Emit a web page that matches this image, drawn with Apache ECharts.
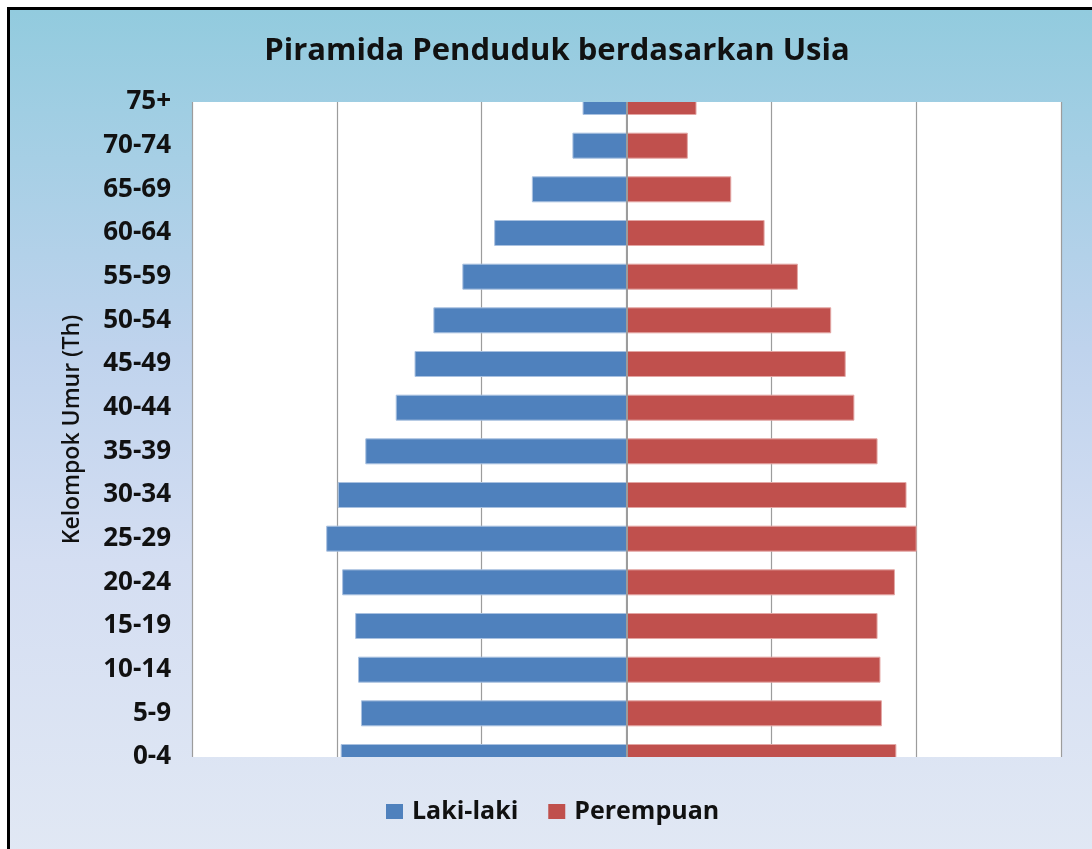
<!DOCTYPE html>
<html>
<head>
<meta charset="utf-8">
<script src="https://cdn.jsdelivr.net/npm/echarts@6/dist/echarts.min.js"></script>
<style>
  html, body { margin: 0; padding: 0; background: #fff; }
  #frame {
    position: absolute; left: 7px; top: 7px; right: -10px; bottom: -10px;
    border-top: 3px solid #000; border-left: 3px solid #000;
    background: linear-gradient(to bottom, #92cbde 0%, #a0cee3 12%, #bfd3ed 40%, #d4def2 65%, #e1e8f4 100%);
  }
  #chart { position: absolute; left: 0; top: 0; width: 1092px; height: 849px; }
</style>
</head>
<body>
<div id="frame"></div>
<div id="chart"></div>
<script>
// kelompok umur, dari bawah ke atas
const categories = ['0-4', '5-9', '10-14', '15-19', '20-24', '25-29', '30-34', '35-39',
  '40-44', '45-49', '50-54', '55-59', '60-64', '65-69', '70-74', '75+']

// laki-laki digambar ke kiri (negatif)
const lakiLaki = [-197, -183, -185, -187, -196, -207, -199, -180,
  -159, -146, -133, -113, -91, -65, -37, -30]
const perempuan = [186, 176, 175, 173, 185, 200, 193, 173,
  157, 151, 141, 118, 95, 72, 42, 48]

const seriesNames = ['Laki-laki', 'Perempuan']
const colors = ['#4f81bd', '#c0504d']
const borders = ['#a9c1e0', '#e3a6a4']
const font = 'Open Sans'
const barHeight = 25

const mychart = echarts.init(document.getElementById('chart'))

// bar as custom series so the half bars on the edges get clipped by the grid
function renderBar(params, api) {
  const cat = api.value(1)
  const start = api.coord([0, cat])
  const end = api.coord([api.value(0), cat])
  return {
    type: 'rect',
    shape: {
      x: Math.min(start[0], end[0]),
      y: start[1] - barHeight / 2,
      width: Math.abs(end[0] - start[0]),
      height: barHeight
    },
    style: {
      fill: colors[params.seriesIndex],
      stroke: borders[params.seriesIndex],
      lineWidth: 1
    }
  }
}

function makeSeries(idx, values) {
  return {
    name: seriesNames[idx],
    type: 'custom',
    clip: true,
    renderItem: renderBar,
    encode: { x: 0, y: 1 },
    itemStyle: { color: colors[idx] },
    data: values.map((v, i) => [v, i])
  }
}

const s0 = makeSeries(0, lakiLaki)
const s1 = makeSeries(1, perempuan)
s1.markLine = {
  silent: true,
  symbol: ['none', 'none'],
  label: { show: false },
  lineStyle: { color: '#9c9c9c', type: 'solid', width: 2 },
  data: [{ xAxis: 0 }]
}

mychart.setOption({
  animation: false,
  backgroundColor: 'transparent',
  title: {
    text: 'Piramida Penduduk berdasarkan Usia',
    left: 552,
    textAlign: 'center',
    top: 31,
    textStyle: { fontFamily: font, fontSize: 31, fontWeight: 'bold', color: '#111' }
  },
  legend: {
    data: seriesNames,
    left: 386,
    top: 799,
    padding: 0,
    icon: 'rect',
    itemWidth: 17,
    itemHeight: 15,
    itemGap: 30,
    textStyle: { fontFamily: font, fontSize: 25, fontWeight: 'bold', color: '#111', padding: [0, 0, 0, 4] }
  },
  grid: {
    left: 192, right: 31, top: 102, bottom: 92,
    show: true, backgroundColor: '#fff', borderWidth: 0
  },
  xAxis: {
    type: 'value',
    min: -300, max: 300, interval: 100,
    axisLabel: { show: false },
    axisLine: { show: false },
    axisTick: { show: false },
    splitLine: { lineStyle: { color: '#9c9c9c', width: 1.2 } }
  },
  yAxis: {
    type: 'category',
    data: categories,
    boundaryGap: false,
    name: 'Kelompok Umur (Th)',
    nameLocation: 'middle',
    nameRotate: 90,
    nameGap: 108,
    nameTextStyle: { fontFamily: font, fontSize: 23, fontWeight: 600, color: '#111' },
    axisLine: { show: false },
    axisTick: { show: false },
    splitLine: { show: false },
    axisLabel: { margin: 21, padding: [5, 0, 0, 0], fontFamily: font, fontSize: 26, fontWeight: 'bold', color: '#111' }
  },
  series: [s0, s1]
})
</script>
</body>
</html>
